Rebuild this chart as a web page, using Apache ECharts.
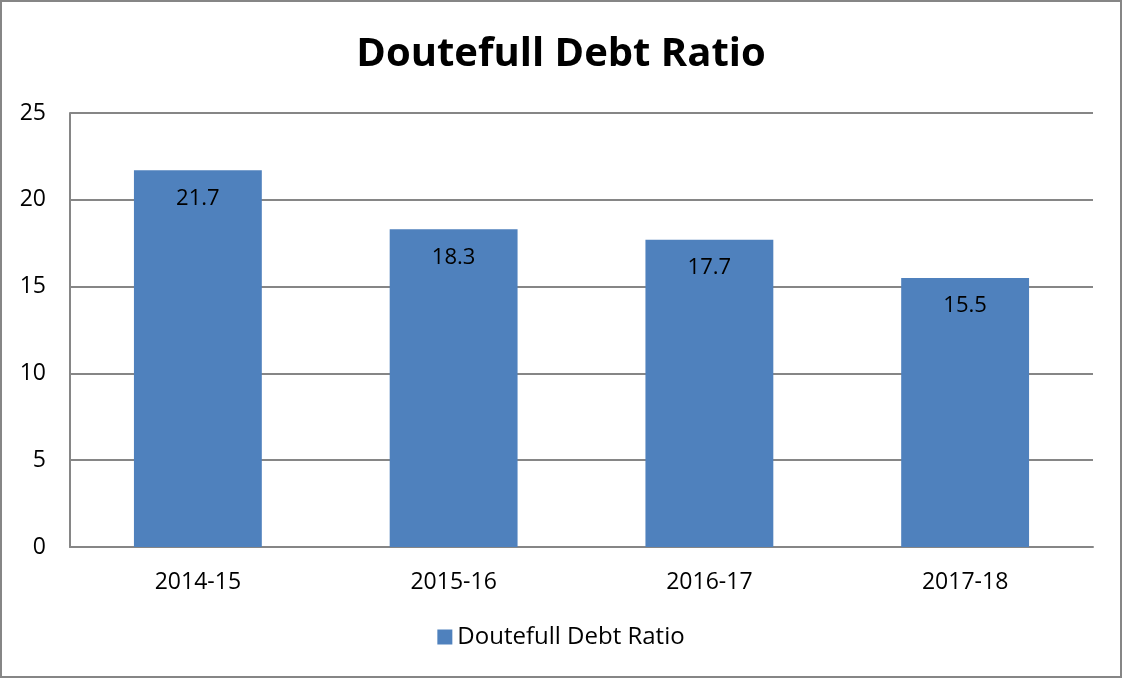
<!DOCTYPE html>
<html>
<head>
<meta charset="utf-8">
<script src="https://cdn.jsdelivr.net/npm/echarts@6/dist/echarts.min.js"></script>
<style>
    html, body { margin: 0; padding: 0; background: #fff; }
    #chart { width: 1122px; height: 678px; box-sizing: border-box; border: 2px solid #868686; }
</style>
</head>
<body>
<div id="chart"></div>
<script>
const categories = ["2014-15", "2015-16", "2016-17", "2017-18"]
const ratioValues = [21.7, 18.3, 17.7, 15.5]
const seriesName = "Doutefull Debt Ratio"

const font = "Open Sans, Lato, sans-serif"

const chart = echarts.init(document.getElementById("chart"))

chart.setOption({
    animation: false,
    title: {
        text: "Doutefull Debt Ratio",
        left: "center",
        top: 28,
        textStyle: { fontFamily: font, fontSize: 40, fontWeight: "bold", color: "#000" }
    },
    legend: {
        bottom: 22,
        left: "center",
        itemWidth: 15,
        itemHeight: 15,
        icon: "rect",
        itemGap: 6,
        itemTextGap: 8,
        textStyle: { fontFamily: font, fontSize: 24, color: "#000" },
        data: [seriesName]
    },
    grid: { left: 68, right: 27, top: 111, bottom: 129 },
    xAxis: {
        type: "category",
        data: categories,
        axisLine: { lineStyle: { color: "#868686", width: 2 } },
        axisTick: { show: false },
        axisLabel: { fontFamily: font, fontSize: 23, color: "#000", margin: 24 }
    },
    yAxis: {
        type: "value",
        min: 0,
        max: 25,
        interval: 5,
        axisLine: { show: true, lineStyle: { color: "#868686", width: 2 } },
        axisTick: { show: false },
        splitLine: { lineStyle: { color: "#868686", width: 2 } },
        axisLabel: { fontFamily: font, fontSize: 23, color: "#000", margin: 24 }
    },
    series: [{
        name: seriesName,
        type: "bar",
        data: ratioValues,
        barWidth: "50%",
        itemStyle: { color: "#4F81BD" },
        label: {
            show: true,
            position: "insideTop",
            distance: 17,
            fontFamily: font,
            fontSize: 22,
            color: "#000"
        }
    }]
})
</script>
</body>
</html>
